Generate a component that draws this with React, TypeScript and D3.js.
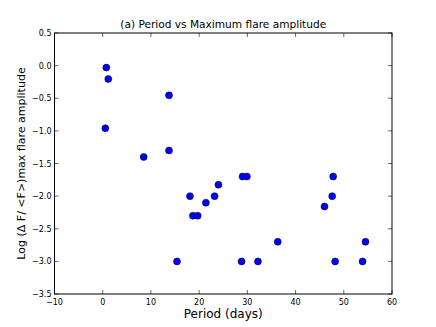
import React from "react";
import * as d3 from "d3";

const periods = [0.75, 1.16, 13.75, 0.54, 8.5, 13.75, 18.1, 18.7, 19.7, 21.4, 23.2, 24.0, 29.0, 29.9, 47.8, 47.6, 46.0, 15.4, 28.8, 32.2, 36.3, 48.2, 53.9, 54.5];
const amplitudes = [-0.03, -0.205, -0.455, -0.96, -1.4, -1.3, -2.0, -2.3, -2.3, -2.1, -2.0, -1.825, -1.7, -1.7, -1.7, -2.0, -2.16, -3.0, -3.0, -3.0, -2.7, -3.0, -3.0, -2.7];
const xTicks = [-10, 0, 10, 20, 30, 40, 50, 60];
const yTicks = [0.5, 0.0, -0.5, -1.0, -1.5, -2.0, -2.5, -3.0, -3.5];

const W = 436, H = 327;
const L = 54.5, R = 392, T = 33, B = 294;
const FONT = "DejaVu Sans, sans-serif";

export default function App() {
  const x = d3.scaleLinear().domain([-10, 60]).range([L, R]);
  const y = d3.scaleLinear().domain([-3.5, 0.5]).range([B, T]);
  const fmt = (v: number) => (v < 0 ? "\u2212" : "") + Math.abs(v).toFixed(1);
  return (
    <svg width={W} height={H} style={{ position: "absolute", left: 0, top: 0, background: "#fff" }}>
      <rect x={0} y={0} width={W} height={H} fill="#fff" />
      <text x={(L + R) / 2} y={28} textAnchor="middle" fontFamily={FONT} fontSize={10.6}>(a) Period vs Maximum flare amplitude</text>
      {xTicks.map((t) => (
        <g key={"x" + t}>
          <line x1={x(t)} x2={x(t)} y1={B} y2={B - 4} stroke="#000" strokeWidth={0.6} />
          <line x1={x(t)} x2={x(t)} y1={T} y2={T + 4} stroke="#000" strokeWidth={0.6} />
          <text x={x(t)} y={B + 11} textAnchor="middle" fontFamily={FONT} fontSize={8}>{t < 0 ? "\u2212" + Math.abs(t) : t}</text>
        </g>
      ))}
      {yTicks.map((t) => (
        <g key={"y" + t}>
          <line x1={L} x2={L + 4} y1={y(t)} y2={y(t)} stroke="#000" strokeWidth={0.6} />
          <line x1={R} x2={R - 4} y1={y(t)} y2={y(t)} stroke="#000" strokeWidth={0.6} />
          <text x={L - 3} y={y(t) + 3} textAnchor="end" fontFamily={FONT} fontSize={8}>{fmt(t)}</text>
        </g>
      ))}
      {periods.map((p, i) => (
        <circle key={i} cx={x(p)} cy={y(amplitudes[i])} r={3.5} fill="#0000ff" stroke="#000" strokeWidth={0.5} />
      ))}
      <rect x={L} y={T} width={R - L} height={B - T} fill="none" stroke="#000" strokeWidth={1} />
      <text x={(L + R) / 2} y={318} textAnchor="middle" fontFamily={FONT} fontSize={12}>Period (days)</text>
      <text transform={`translate(25,${(T + B) / 2}) rotate(-90)`} textAnchor="middle" fontFamily={FONT} fontSize={11}>Log ({"\u0394"} F/ &lt;F&gt;)max flare amplitude</text>
    </svg>
  );
}
